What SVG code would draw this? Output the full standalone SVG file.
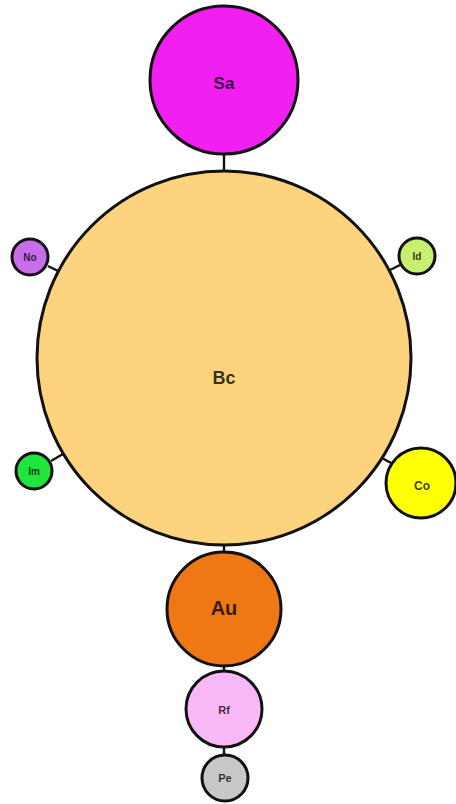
<svg xmlns="http://www.w3.org/2000/svg" width="456" height="804" viewBox="0 0 456 804">
<style>
.n{stroke:#111;stroke-width:3}
.e{stroke:#111;stroke-width:2.4;fill:none}
text{font-family:"Liberation Sans",Arial,sans-serif;font-weight:bold;text-anchor:middle;dominant-baseline:central;fill:#000;fill-opacity:0.78}
</style>
<rect width="456" height="804" fill="#fff"/>
<g id="connectors">
<line class="e" x1="224" y1="153" x2="224" y2="171"/>
<line class="e" x1="224" y1="545" x2="224" y2="552"/>
<line class="e" x1="224" y1="666" x2="224" y2="670"/>
<line class="e" x1="224" y1="748" x2="224" y2="754"/>
<line class="e" x1="48" y1="266" x2="58" y2="271"/>
<line class="e" x1="400" y1="265" x2="390" y2="270"/>
<line class="e" x1="51" y1="461" x2="63" y2="454"/>
<line class="e" x1="391" y1="463" x2="382" y2="458"/>
</g>
<g id="Sa"><circle class="n" cx="224" cy="80" r="74" fill="#f21ff2"/><text x="224" y="83" font-size="17">Sa</text></g>
<g id="Bc"><circle class="n" cx="224" cy="358" r="187" fill="#fdd47d"/><text x="224" y="378" font-size="18">Bc</text></g>
<g id="No"><circle class="n" cx="30" cy="257" r="18" fill="#c86eec"/><text x="30" y="257" font-size="10">No</text></g>
<g id="Id"><circle class="n" cx="417" cy="256" r="18" fill="#c8f070"/><text x="417" y="256" font-size="10">Id</text></g>
<g id="Im"><circle class="n" cx="34" cy="471" r="18" fill="#1ee63c"/><text x="34" y="471" font-size="10">Im</text></g>
<g id="Co"><circle class="n" cx="421" cy="483" r="35" fill="#ffff05"/><text x="422" y="486" font-size="12">Co</text></g>
<g id="Au"><circle class="n" cx="224" cy="609" r="57" fill="#ee7814"/><text x="224" y="608" font-size="20">Au</text></g>
<g id="Rf"><circle class="n" cx="224" cy="709" r="38" fill="#f8b8f8"/><text x="224" y="710" font-size="11">Rf</text></g>
<g id="Pe"><circle class="n" cx="225" cy="778" r="23" fill="#c8c8c8"/><text x="225" y="778" font-size="11">Pe</text></g>
</svg>
